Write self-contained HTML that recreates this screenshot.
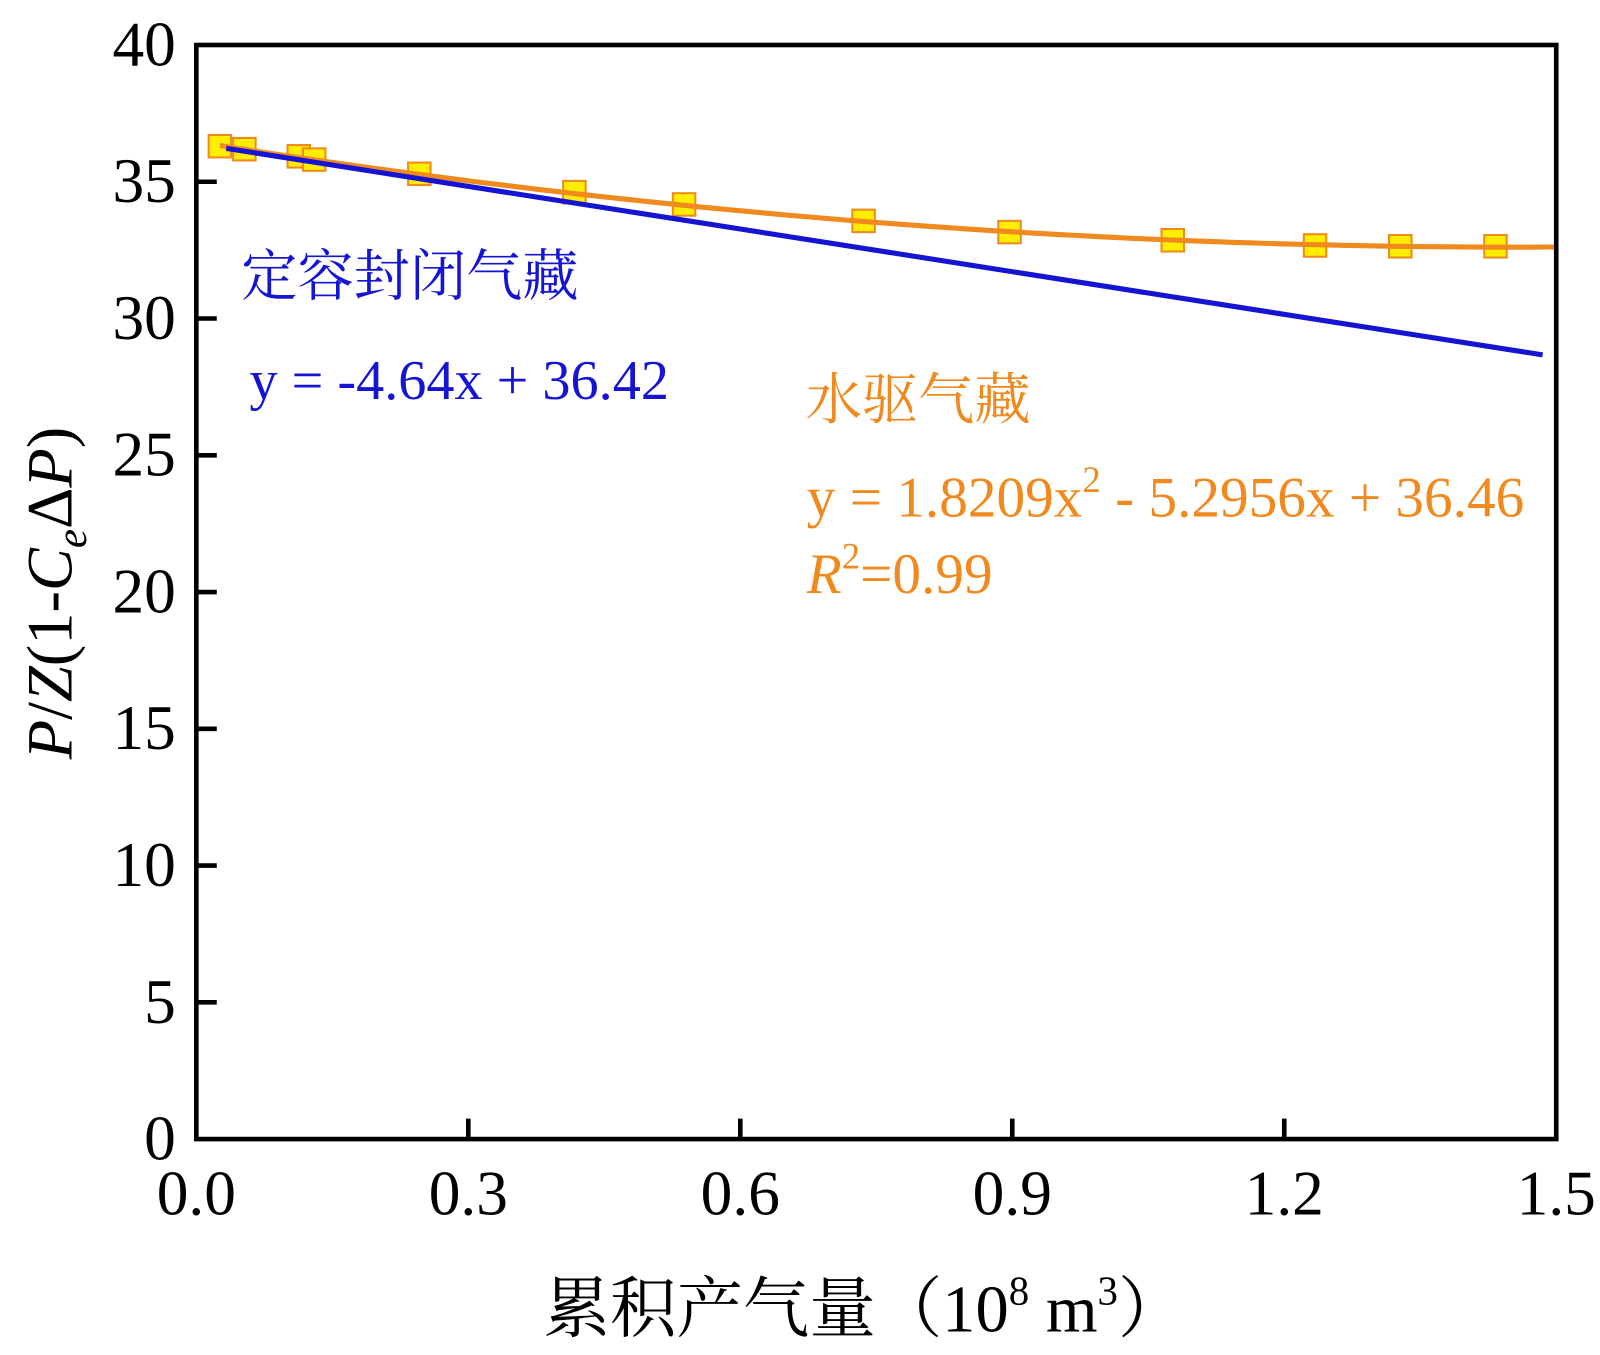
<!DOCTYPE html>
<html><head><meta charset="utf-8">
<style>
html,body{margin:0;padding:0;background:#fff;}
svg text{font-family:"Liberation Serif","Noto Serif CJK SC","Noto Sans CJK SC",serif;}
</style></head>
<body>
<svg width="1600" height="1350" viewBox="0 0 1600 1350" xmlns="http://www.w3.org/2000/svg">
<g transform="scale(1.0225)">
<g id="marks"></g>
<rect x="192" y="44" width="1330" height="1070" fill="none" stroke="#000" stroke-width="4.5"/>
<g id="ticks"></g>
<text x="0" y="0" transform="translate(70,580) rotate(-90)" text-anchor="middle" font-size="63"><tspan font-style="italic">P</tspan>/<tspan font-style="italic">Z</tspan>(1-<tspan font-style="italic">C</tspan><tspan font-style="italic" font-size="42" dy="14">e</tspan><tspan dy="-14">Δ</tspan><tspan font-style="italic">P</tspan>)</text>
<text x="845" y="1302" text-anchor="middle" font-size="65">累积产气量（10<tspan font-size="40" dy="-26">8</tspan><tspan dy="26"> m</tspan><tspan font-size="40" dy="-26">3</tspan><tspan dy="26">）</tspan></text>
<text x="236" y="289" font-size="55" fill="#1414d2" font-family="'Noto Serif CJK SC','Noto Sans CJK SC',serif">定容封闭气藏</text>
<text x="244" y="390" font-size="55" fill="#1414d2">y = -4.64x + 36.42</text>
<text x="788" y="410" font-size="55" fill="#f0891e" font-family="'Noto Serif CJK SC','Noto Sans CJK SC',serif">水驱气藏</text>
<text x="789" y="505" font-size="56" fill="#f0891e">y = 1.8209x<tspan font-size="36" dy="-24">2</tspan><tspan dy="24"> - 5.2956x + 36.46</tspan></text>
<text x="789" y="580" font-size="56" fill="#f0891e"><tspan font-style="italic">R</tspan><tspan font-size="36" dy="-24">2</tspan><tspan dy="24">=0.99</tspan></text>
</g>
</svg>
<script>
const xs=[0.026,0.053,0.113,0.130,0.246,0.417,0.538,0.736,0.897,1.077,1.234,1.328,1.433];
const ys=[36.30,36.19,35.93,35.81,35.29,34.62,34.17,33.57,33.16,32.86,32.67,32.64,32.64];
const linX=[0.033,1.485];
const linY=[36.22,28.67];
const quadCoef=[1.8209,-5.2956,36.46];
const quadRange=[0.026,1.5];
const xTicks=[0,0.3,0.6,0.9,1.2,1.5];
const xTickLabels=["0.0","0.3","0.6","0.9","1.2","1.5"];
const yTicks=[0,5,10,15,20,25,30,35,40];
const yTickLabels=["0","5","10","15","20","25","30","35","40"];
const NS="http://www.w3.org/2000/svg";
const X=v=>192+v/1.5*1330, Y=v=>1114-v/40*1070;
const marks=document.getElementById('marks'), ticks=document.getElementById('ticks');
function mk(tag,attrs,parent){const e=document.createElementNS(NS,tag);for(const k in attrs)e.setAttribute(k,attrs[k]);parent.appendChild(e);return e;}
xs.forEach((x,i)=>{const r=mk('rect',{x:X(x)-11,y:Y(ys[i])-11,width:22,height:22,fill:'#ffee00',stroke:'#f0891e','stroke-width':2},marks);

});
let d='';for(let i=0;i<=100;i++){const x=quadRange[0]+(quadRange[1]-quadRange[0])*i/100;const y=quadCoef[0]*x*x+quadCoef[1]*x+quadCoef[2];d+=(i?'L':'M')+X(x).toFixed(1)+','+Y(y).toFixed(1);}
const q=mk('path',{d:d,fill:'none',stroke:'#f0891e','stroke-width':5},marks);


const l=mk('line',{x1:X(linX[0]),y1:Y(linY[0]),x2:X(linX[1]),y2:Y(linY[1]),stroke:'#1414d2','stroke-width':5},marks);


xTicks.forEach((t,i)=>{if(t>0&&t<1.5){const tk=mk('line',{x1:X(t),y1:1114,x2:X(t),y2:1094,stroke:'#000','stroke-width':4.5},ticks);

}
const tx=mk('text',{x:X(t),y:1188,'text-anchor':'middle','font-size':62},ticks);tx.textContent=xTickLabels[i];

});
yTicks.forEach((t,i)=>{if(t>0&&t<40){const tk=mk('line',{x1:192,y1:Y(t),x2:212,y2:Y(t),stroke:'#000','stroke-width':4.5},ticks);

}
const tx=mk('text',{x:172,y:Y(t)+20,'text-anchor':'end','font-size':62},ticks);tx.textContent=yTickLabels[i];

});
</script>
</body></html>
